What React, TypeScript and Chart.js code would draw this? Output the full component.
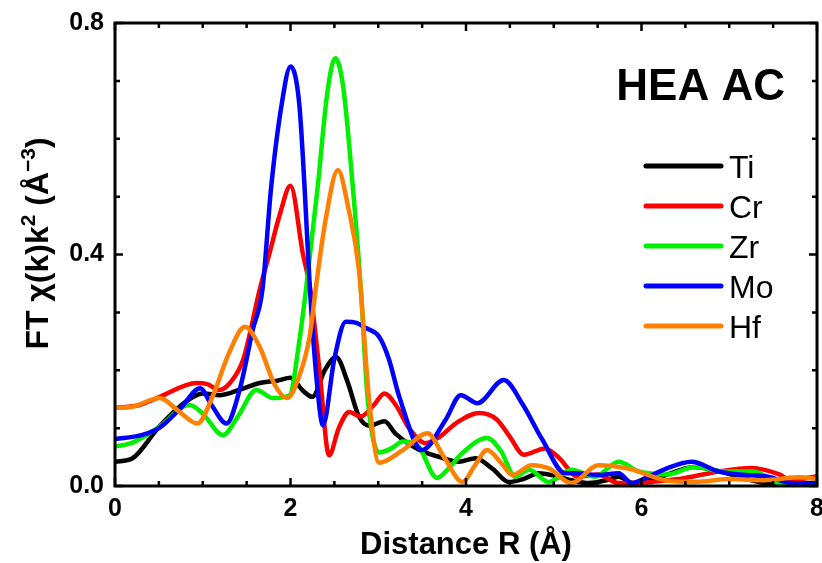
import React, { useEffect, useRef } from 'react';
import { Chart, registerables } from 'chart.js';

Chart.register(...registerables);

// ---------- data ----------
const seriesNames = ['Ti', 'Cr', 'Zr', 'Mo', 'Hf'];
const seriesColors = ['#000000', '#ff0000', '#00f000', '#0000ff', '#ff8000'];

const rTi = [0, 0.2, 0.5, 0.8, 1.0, 1.2, 1.45, 1.65, 1.85, 2.0, 2.14, 2.25, 2.39, 2.52, 2.65, 2.78, 2.9, 3.07, 3.2, 3.47, 3.7, 3.92, 4.11, 4.3, 4.49, 4.65, 4.83, 5.0, 5.2, 5.4, 5.6, 5.74, 5.9, 6.2, 6.6, 6.9, 7.2, 7.44, 7.7, 8.0];
const fTi = [0.042, 0.048, 0.102, 0.145, 0.16, 0.157, 0.168, 0.178, 0.182, 0.187, 0.165, 0.154, 0.2, 0.223, 0.18, 0.12, 0.104, 0.112, 0.09, 0.062, 0.05, 0.042, 0.048, 0.03, 0.007, 0.012, 0.022, 0.018, 0.01, 0.005, 0.01, 0.016, 0.005, 0.015, 0.033, 0.025, 0.012, 0.005, 0.005, 0.005];

const rCr = [0, 0.28, 0.51, 0.93, 1.05, 1.19, 1.31, 1.46, 1.65, 1.76, 1.88, 2.0, 2.14, 2.22, 2.33, 2.44, 2.55, 2.67, 2.8, 2.95, 3.07, 3.2, 3.35, 3.54, 3.7, 3.9, 4.15, 4.35, 4.5, 4.66, 4.9, 5.05, 5.28, 5.5, 5.74, 5.97, 6.12, 6.5, 6.88, 7.25, 7.57, 7.7, 8.0];
const fCr = [0.135, 0.14, 0.154, 0.178, 0.176, 0.166, 0.178, 0.218, 0.34, 0.402, 0.47, 0.519, 0.402, 0.344, 0.2, 0.053, 0.1, 0.128, 0.12, 0.14, 0.16, 0.14, 0.1, 0.074, 0.085, 0.11, 0.126, 0.115, 0.085, 0.054, 0.065, 0.05, 0.016, 0.02, 0.005, 0.005, 0.007, 0.014, 0.025, 0.031, 0.02, 0.01, 0.017];

const rZr = [0, 0.2, 0.5, 0.85, 1.0, 1.23, 1.4, 1.61, 1.8, 1.99, 2.1, 2.18, 2.31, 2.42, 2.51, 2.6, 2.71, 2.8, 2.88, 3.01, 3.15, 3.28, 3.45, 3.67, 3.8, 3.96, 4.24, 4.4, 4.56, 4.72, 4.94, 5.2, 5.47, 5.74, 5.97, 6.3, 6.6, 6.95, 7.27, 7.63, 8.0];
const fZr = [0.068, 0.075, 0.102, 0.14, 0.125, 0.088, 0.12, 0.166, 0.152, 0.157, 0.25, 0.344, 0.517, 0.68, 0.739, 0.69, 0.517, 0.344, 0.15, 0.058, 0.065, 0.077, 0.07, 0.014, 0.03, 0.057, 0.083, 0.06, 0.016, 0.028, 0.007, 0.028, 0.016, 0.042, 0.025, 0.02, 0.033, 0.025, 0.025, 0.002, 0.002];

const rMo = [0, 0.3, 0.5, 0.75, 0.97, 1.1, 1.27, 1.42, 1.57, 1.68, 1.78, 1.9, 2.0, 2.1, 2.16, 2.22, 2.3, 2.37, 2.5, 2.63, 2.75, 2.86, 3.01, 3.12, 3.24, 3.5, 3.77, 3.94, 4.13, 4.43, 4.65, 4.87, 5.13, 5.28, 5.5, 5.74, 5.89, 6.05, 6.25, 6.57, 6.88, 7.18, 7.44, 7.7, 8.0];
const fMo = [0.081, 0.088, 0.1, 0.135, 0.169, 0.14, 0.108, 0.166, 0.27, 0.339, 0.517, 0.66, 0.725, 0.66, 0.517, 0.344, 0.18, 0.105, 0.22, 0.284, 0.282, 0.273, 0.258, 0.22, 0.154, 0.062, 0.115, 0.157, 0.143, 0.183, 0.14, 0.08, 0.022, 0.022, 0.019, 0.022, 0.005, 0.014, 0.028, 0.042, 0.025, 0.019, 0.016, 0.005, 0.003];

const rHf = [0, 0.2, 0.51, 0.72, 0.94, 1.1, 1.3, 1.48, 1.65, 1.82, 1.96, 2.1, 2.22, 2.29, 2.4, 2.54, 2.66, 2.78, 2.9, 3.01, 3.28, 3.56, 3.75, 3.96, 4.1, 4.24, 4.4, 4.53, 4.75, 4.95, 5.2, 5.51, 5.85, 6.27, 6.6, 7.02, 7.4, 7.8, 8.0];
const fHf = [0.135, 0.137, 0.152, 0.13, 0.108, 0.15, 0.23, 0.275, 0.24, 0.175, 0.152, 0.19, 0.26, 0.344, 0.46, 0.546, 0.48, 0.373, 0.143, 0.04, 0.062, 0.091, 0.05, 0.007, 0.035, 0.062, 0.04, 0.019, 0.036, 0.03, 0.005, 0.036, 0.03, 0.01, 0.007, 0.012, 0.01, 0.015, 0.012];

const seriesR = [rTi, rCr, rZr, rMo, rHf];
const seriesF = [fTi, fCr, fZr, fMo, fHf];

const xTickValues = [0, 2, 4, 6, 8];
const yTickValues = [0, 0.4, 0.8];
const xMinorStep = 0.5;
const yMinorStep = 0.1;
const xTitle = 'Distance R (Å)';
const panelLabel = 'HEA AC';
// y title pieces: [text, isSuperscript]
const yTitleParts: [string, boolean][] = [
  ['FT χ(k)k', false],
  ['2', true],
  [' (Å', false],
  ['−3', true],
  [')', false],
];

const FONT = "'Liberation Sans', Arial, Helvetica, sans-serif";

const decorPlugin = {
  id: 'decor',
  afterDatasetsDraw(chart: any) {
    const { ctx, chartArea: a, scales } = chart;
    const xs = scales.x;
    const ys = scales.y;
    ctx.save();
    ctx.strokeStyle = '#000';
    ctx.lineCap = 'butt';
    ctx.lineWidth = 2.5;
    const xMin = xs.min, xMax = xs.max;
    for (let v = xMin; v <= xMax + 1e-9; v += xMinorStep) {
      const px = xs.getPixelForValue(v);
      const major = xTickValues.some((t) => Math.abs(t - v) < 1e-6);
      const len = major ? 8 : 5;
      ctx.beginPath();
      ctx.moveTo(px, a.bottom);
      ctx.lineTo(px, a.bottom - len);
      ctx.moveTo(px, a.top);
      ctx.lineTo(px, a.top + len);
      ctx.stroke();
    }
    const yMin = ys.min, yMax = ys.max;
    for (let v = yMin; v <= yMax + 1e-9; v += yMinorStep) {
      const py = ys.getPixelForValue(v);
      const major = yTickValues.some((t) => Math.abs(t - v) < 1e-6);
      const len = major ? 8 : 5;
      ctx.beginPath();
      ctx.moveTo(a.left, py);
      ctx.lineTo(a.left + len, py);
      ctx.moveTo(a.right, py);
      ctx.lineTo(a.right - len, py);
      ctx.stroke();
    }
    ctx.lineWidth = 3;
    ctx.strokeRect(a.left, a.top, a.right - a.left, a.bottom - a.top);
    ctx.restore();
  },
  afterDraw(chart: any) {
    const { ctx, chartArea: a } = chart;
    ctx.save();
    ctx.fillStyle = '#000';
    ctx.font = `bold 44px ${FONT}`;
    ctx.textAlign = 'right';
    ctx.textBaseline = 'alphabetic';
    ctx.fillText(panelLabel, a.right - 32, a.top + 77);

    ctx.font = `32px ${FONT}`;
    ctx.textAlign = 'left';
    chart.data.datasets.forEach((ds: any, i: number) => {
      const y = a.top + 143 + i * 40;
      ctx.strokeStyle = ds.borderColor;
      ctx.lineWidth = 5;
      ctx.lineCap = 'round';
      ctx.beginPath();
      ctx.moveTo(a.right - 171, y);
      ctx.lineTo(a.right - 96, y);
      ctx.stroke();
      ctx.fillStyle = '#000';
      ctx.fillText(ds.label, a.right - 88, y + 11.5);
    });

    const size = 32;
    const supSize = 21;
    let total = 0;
    const widths: number[] = [];
    yTitleParts.forEach(([t, sup]) => {
      ctx.font = `bold ${sup ? supSize : size}px ${FONT}`;
      const w = ctx.measureText(t).width;
      widths.push(w);
      total += w;
    });
    ctx.translate(a.left - 67, (a.top + a.bottom) / 2 - 11);
    ctx.rotate(-Math.PI / 2);
    let x = -total / 2;
    ctx.textAlign = 'left';
    yTitleParts.forEach(([t, sup], i) => {
      ctx.font = `bold ${sup ? supSize : size}px ${FONT}`;
      ctx.fillText(t, x, sup ? -13 : 0);
      x += widths[i];
    });
    ctx.restore();
  },
};

export default function App() {
  const ref = useRef<HTMLCanvasElement | null>(null);
  useEffect(() => {
    if (!ref.current) return;
    const datasets = seriesNames.map((name, i) => ({
      label: name,
      data: seriesR[i].map((r, j) => ({ x: r, y: seriesF[i][j] })),
      borderColor: seriesColors[i],
      backgroundColor: seriesColors[i],
      borderWidth: 4.5,
      pointRadius: 0,
      fill: false,
      cubicInterpolationMode: 'monotone' as const,
      borderCapStyle: 'round' as const,
      borderJoinStyle: 'round' as const,
      order: seriesNames.length - i,
    }));
    const chart = new Chart(ref.current, {
      type: 'line',
      data: { datasets },
      options: {
        animation: false,
        responsive: false,
        maintainAspectRatio: false,
        layout: { padding: { top: 23, right: 5, left: 0, bottom: 0 } },
        plugins: { legend: { display: false }, tooltip: { enabled: false } },
        scales: {
          x: {
            type: 'linear',
            min: 0,
            max: 8,
            afterFit: (s: any) => { s.height = 77; s.paddingLeft = 0; s.paddingRight = 0; },
            afterBuildTicks: (s: any) => { s.ticks = xTickValues.map((v) => ({ value: v })); },
            grid: { display: false, drawTicks: false },
            border: { display: false },
            ticks: {
              color: '#000',
              font: { family: FONT, size: 25, weight: 'bold' },
              padding: 8,
              maxRotation: 0,
              autoSkip: false,
              callback: (v: any) => String(v),
            },
            title: {
              display: true,
              text: xTitle,
              color: '#000',
              font: { family: FONT, size: 31, weight: 'bold', lineHeight: 1 },
              padding: { top: 0, bottom: 2 },
            },
          },
          y: {
            type: 'linear',
            min: 0,
            max: 0.8,
            afterFit: (s: any) => { s.width = 115; s.paddingTop = 0; s.paddingBottom = 0; },
            afterBuildTicks: (s: any) => { s.ticks = yTickValues.map((v) => ({ value: v })); },
            grid: { display: false, drawTicks: false },
            border: { display: false },
            ticks: {
              color: '#000',
              font: { family: FONT, size: 25, weight: 'bold' },
              padding: 11,
              autoSkip: false,
              callback: (v: any) => Number(v).toFixed(1),
            },
          },
        },
      },
      plugins: [decorPlugin],
    });
    return () => chart.destroy();
  }, []);
  return (
    <div style={{ position: 'fixed', left: 0, top: 0, width: 822, height: 563, background: '#fff' }}>
      <canvas ref={ref} width={822} height={563} />
    </div>
  );
}
